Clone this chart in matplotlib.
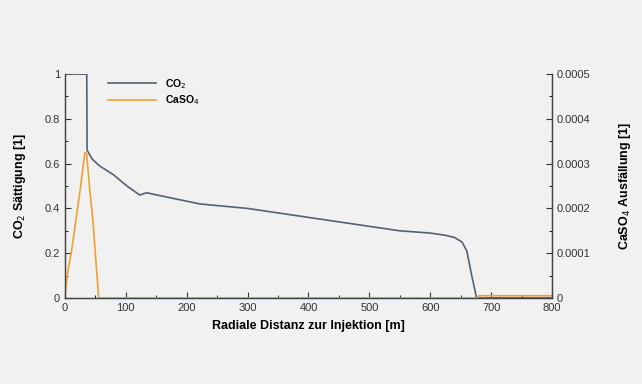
import matplotlib
matplotlib.use("Agg")
import matplotlib.pyplot as plt
from matplotlib.ticker import MultipleLocator

plt.rcParams['font.family'] = ['Liberation Sans', 'DejaVu Sans']

# CO2 saturation (left axis)
co2_x = [0, 36, 36.5, 45, 57, 80, 102, 123, 134, 160, 222, 300, 400, 500, 550, 600, 625, 640, 652, 660, 668, 676, 800]
co2_y = [1.0, 1.0, 0.66, 0.62, 0.59, 0.55, 0.50, 0.46, 0.47, 0.455, 0.42, 0.40, 0.36, 0.32, 0.30, 0.29, 0.28, 0.27, 0.25, 0.21, 0.10, 0.0, 0.0]

# CaSO4 precipitation (right axis)
caso4_x = [0, 5, 11, 25, 33, 36, 41, 46, 50, 54, 55.5, 60, 676, 680, 800]
caso4_y = [0.0, 0.00006, 0.000105, 0.00024, 0.000325, 0.00032, 0.00024, 0.000175, 0.0001, 0.00003, 0.0, 0.0, 0.0, 0.000005, 0.000005]

x_ticks = [0, 100, 200, 300, 400, 500, 600, 700, 800]
left_ticks = [0, 0.2, 0.4, 0.6, 0.8, 1.0]
left_labels = ['0', '0.2', '0.4', '0.6', '0.8', '1']
right_ticks = [0, 0.0001, 0.0002, 0.0003, 0.0004, 0.0005]
right_labels = ['0', '0.0001', '0.0002', '0.0003', '0.0004', '0.0005']

bg = '#f1f1f1'
co2_color = '#56616f'
caso4_color = '#f0a030'

fig = plt.figure(figsize=(6.42, 3.84), dpi=100, facecolor=bg)
ax = fig.add_axes([0.101, 0.224, 0.759, 0.583])
ax.set_facecolor(bg)
ax2 = ax.twinx()

l1, = ax.plot(co2_x, co2_y, color=co2_color, lw=1.2, label='CO$_2$', zorder=3)
l2, = ax2.plot(caso4_x, caso4_y, color=caso4_color, lw=1.2, label='CaSO$_4$', zorder=1)

ax.set_xlim(0, 800)
ax.set_ylim(0, 1)
ax2.set_ylim(0, 0.0005)

ax.set_xticks(x_ticks)
ax.set_xticklabels([str(v) for v in x_ticks])
ax.set_yticks(left_ticks)
ax.set_yticklabels(left_labels)
ax2.set_yticks(right_ticks)
ax2.set_yticklabels(right_labels)
ax.xaxis.set_minor_locator(MultipleLocator(50))
ax.yaxis.set_minor_locator(MultipleLocator(0.1))
ax2.yaxis.set_minor_locator(MultipleLocator(0.00005))

for a in (ax, ax2):
    a.spines['top'].set_visible(False)
    a.tick_params(direction='in', labelsize=8, colors='#333333', length=4, width=0.8)
    a.tick_params(which='minor', direction='in', length=2, width=0.6)
    for s in a.spines.values():
        s.set_color('#444444')
        s.set_linewidth(0.9)
        s.set_zorder(5)

ax.set_xlabel('Radiale Distanz zur Injektion [m]', fontsize=9, fontweight='bold', labelpad=5)
ax.set_ylabel('CO$_2$ Sättigung [1]', fontsize=9, fontweight='bold', labelpad=12)
ax2.set_ylabel('CaSO$_4$ Ausfällung [1]', fontsize=9, fontweight='bold', labelpad=19)

leg = ax.legend(handles=[l1, l2], loc='upper left', bbox_to_anchor=(0.07, 1.03),
                frameon=False, fontsize=7.5, handlelength=4.6, handletextpad=0.8,
                labelspacing=0.3)
for t in leg.get_texts():
    t.set_fontweight('bold')

fig.savefig('out.png', dpi=100, facecolor=bg)
